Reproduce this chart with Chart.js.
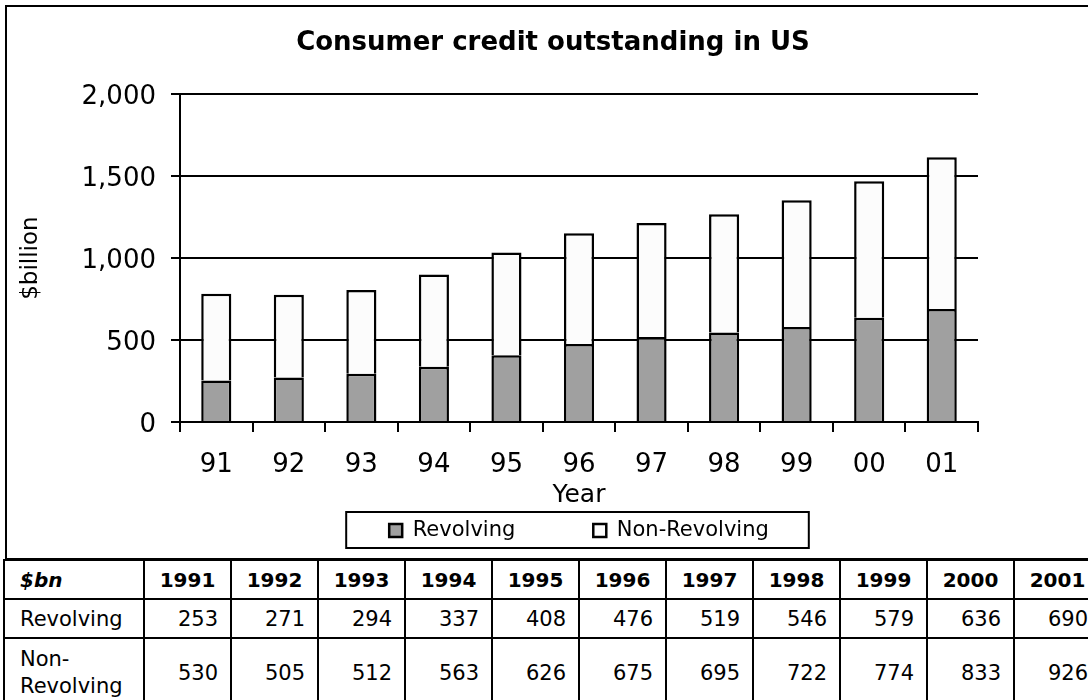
<!DOCTYPE html>
<html>
<head>
<meta charset="utf-8">
<script src="https://cdn.jsdelivr.net/npm/chart.js@4.4.1/dist/chart.umd.min.js"></script>
<style>
  html, body { margin: 0; padding: 0; background: #fff; overflow: hidden; width: 1088px; height: 700px; }
  body { position: relative; font-family: 'DejaVu Sans', Verdana, sans-serif; color: #000; }
  #frame { position: absolute; left: 5px; top: 5px; width: 1300px; height: 555px; border: 2px solid #000; box-sizing: border-box; }
  #chart { position: absolute; left: 0; top: 0; }
  #tbl { position: absolute; left: 3px; top: 559px; border-collapse: collapse; table-layout: fixed; font-size: 21px; }
  #tbl td { border: 2px solid #000; padding: 0 12px; white-space: nowrap; vertical-align: middle; }
  #tbl tr.head td { font-weight: bold; text-align: center; height: 37px; font-size: 20px; }
  #tbl tr.head td.corner { text-align: left; font-style: italic; padding-left: 15px; }
  #tbl tr.r1 td { height: 37px; }
  #tbl tr.r2 td { height: 68px; line-height: 27px; }
  #tbl td.num { text-align: right; }
  #tbl td.lab { text-align: left; padding-left: 15px; }
</style>
</head>
<body>
<div id="frame"></div>
<canvas id="chart" width="1106" height="551"></canvas>
<table id="tbl"></table>
<script>
// === Daten (aus der Tabelle unter dem Diagramm) ===
const years = ['91', '92', '93', '94', '95', '96', '97', '98', '99', '00', '01'];
const fullYears = ['1991', '1992', '1993', '1994', '1995', '1996', '1997', '1998', '1999', '2000', '2001'];
const revolving = [253, 271, 294, 337, 408, 476, 519, 546, 579, 636, 690];
const nonRevolving = [530, 505, 512, 563, 626, 675, 695, 722, 774, 833, 926];

const FONT = "'DejaVu Sans', Verdana, sans-serif";

// Rahmen um die Legende (Chart.js zeichnet keinen)
const legendFrame = {
  id: 'legendFrame',
  afterDraw(chart) {
    const boxes = chart.legend && chart.legend.legendHitBoxes;
    if (!boxes || !boxes.length) return;
    const first = boxes[0], last = boxes[boxes.length - 1];
    const x0 = first.left - 43;
    const x1 = last.left + last.width + 40;
    const ctx = chart.ctx;
    ctx.save();
    ctx.strokeStyle = '#000';
    ctx.lineWidth = 2;
    ctx.strokeRect(x0, first.top - 8, x1 - x0, first.height + 15);
    ctx.restore();
  }
};

new Chart(document.getElementById('chart'), {
  type: 'bar',
  data: {
    labels: years,
    datasets: [
      {
        label: 'Revolving',
        data: revolving,
        backgroundColor: '#a0a0a0',
        borderColor: '#000',
        borderWidth: 2.5,
        yAxisID: 'y'
      },
      {
        label: 'Non-Revolving',
        data: nonRevolving,
        backgroundColor: '#fcfcfc',
        borderColor: '#000',
        borderWidth: 2.5,
        yAxisID: 'y'
      }
    ]
  },
  options: {
    responsive: false,
    animation: false,
    devicePixelRatio: 1,
    datasets: { bar: { categoryPercentage: 1, barPercentage: 0.415 } },
    layout: { padding: 0 },
    plugins: {
      title: {
        display: true,
        text: 'Consumer credit outstanding in US',
        color: '#000',
        font: { family: FONT, size: 26, weight: 'bold' },
        padding: { top: 28, bottom: 35 }
      },
      legend: {
        position: 'bottom',
        fullSize: false,
        // leerer Titel mit negativem Abstand: zieht die Einträge nach oben,
        // damit der große horizontale Abstand (padding) nicht auch vertikal wirkt
        title: { display: true, text: '', font: { size: 10, lineHeight: 1 }, padding: { top: 0, bottom: -52 } },
        labels: {
          color: '#000',
          font: { family: FONT, size: 21 },
          boxWidth: 13,
          boxHeight: 13,
          padding: 78
        }
      },
      tooltip: { enabled: false }
    },
    scales: {
      x: {
        stacked: true,
        afterFit(scale) { scale.height = 62; },
        grid: { drawOnChartArea: false, drawTicks: true, tickLength: 10, color: '#000', lineWidth: 2, offset: true },
        border: { color: '#000', width: 2 },
        ticks: { color: '#000', font: { family: FONT, size: 26 }, padding: 18, maxRotation: 0 },
        title: { display: true, text: 'Year', color: '#000', font: { family: FONT, size: 25 }, padding: { top: 0, bottom: -26 } }
      },
      y: {
        stacked: true,
        position: 'left',
        min: 0,
        max: 2000,
        afterFit(scale) { scale.width = 180; },
        grid: { color: '#000', lineWidth: 2, tickLength: 9 },
        border: { color: '#000', width: 2 },
        ticks: {
          stepSize: 500,
          color: '#000',
          font: { family: FONT, size: 26 },
          padding: 15,
          labelOffset: 3,
          callback: v => v.toLocaleString('en-US')
        },
        title: { display: true, text: '$billion', color: '#000', font: { family: FONT, size: 23 }, padding: { top: 17, bottom: 0 } }
      },
      // leere Achse rechts: schafft Platz rechts vom Plot, ohne den Titel zu verschieben
      yR: {
        type: 'linear',
        position: 'right',
        display: true,
        afterFit(scale) { scale.width = 128; },
        grid: { display: false },
        border: { display: false },
        ticks: { display: false }
      }
    }
  },
  plugins: [legendFrame]
});

// === Datentabelle ===
const tbl = document.getElementById('tbl');
let html = '<colgroup><col style="width:140px">' + fullYears.map(() => '<col style="width:87px">').join('') + '</colgroup>';
html += '<tr class="head"><td class="corner">$bn</td>' + fullYears.map(y => '<td>' + y + '</td>').join('') + '</tr>';
html += '<tr class="r1"><td class="lab">Revolving</td>' + revolving.map(v => '<td class="num">' + v + '</td>').join('') + '</tr>';
html += '<tr class="r2"><td class="lab">Non-<br>Revolving</td>' + nonRevolving.map(v => '<td class="num">' + v + '</td>').join('') + '</tr>';
tbl.innerHTML = html;
tbl.style.width = (140 + 87 * fullYears.length) + 'px';
</script>
</body>
</html>
